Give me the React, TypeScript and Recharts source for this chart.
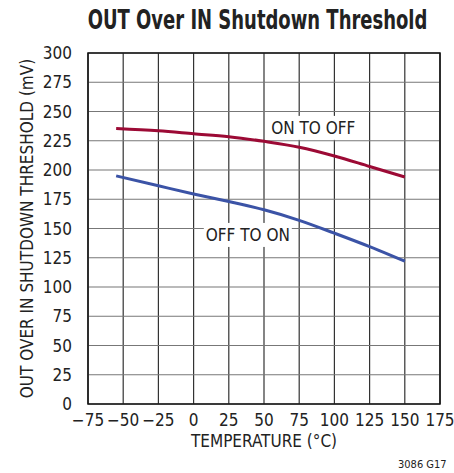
import React from "react";
import {
  LineChart,
  Line,
  XAxis,
  YAxis,
  CartesianGrid,
  ReferenceArea,
  ReferenceDot,
} from "recharts";

// temperature (°C) vs threshold (mV)
const temps = [-55, -25, 0, 25, 50, 75, 100, 125, 150];
const onToOff = [235.5, 233.5, 231, 228.5, 224.5, 219.5, 212, 203, 194];
const offToOn = [195, 186.5, 179.5, 173, 166, 157, 146, 134.5, 122];

const xTicks = [-75, -50, -25, 0, 25, 50, 75, 100, 125, 150, 175];
const yTicks = [0, 25, 50, 75, 100, 125, 150, 175, 200, 225, 250, 275, 300];

const data = temps.map((t, i) => ({ t, on: onToOff[i], off: offToOn[i] }));

const FONT = "'Liberation Sans Narrow', 'DejaVu Sans Condensed', 'Roboto Condensed', sans-serif";
const RED = "#9c0a35";
const BLUE = "#3b53a6";

const minus = (v: number) => String(v).replace("-", "\u2212");

// white boxed curve label
const curveLabel = (text: string, w: number) => (props: any) => {
  const { cx, cy } = props;
  return (
    <g>
      <rect x={cx - w / 2} y={cy - 12} width={w} height={24} fill="#fff" />
      <text x={cx} y={cy + 6} textAnchor="middle" fontFamily={FONT} fontSize={17} fill="#222">
        {text}
      </text>
    </g>
  );
};

export default function App() {
  return (
    <div style={{ position: "absolute", left: 0, top: 0, width: 454, height: 473, background: "#fff" }}>
      <LineChart
        width={454}
        height={473}
        data={data}
        margin={{ top: 53, right: 14, bottom: 0, left: 0 }}
      >
        <CartesianGrid horizontal={false} stroke="#333" strokeWidth={1.2} />
        <CartesianGrid vertical={false} stroke="#777" strokeWidth={1.2} />
        <XAxis
          type="number"
          dataKey="t"
          domain={[-75, 175]}
          ticks={xTicks}
          tickFormatter={minus}
          interval={0}
          tickLine={false}
          axisLine={false}
          tickMargin={4}
          height={69}
          tick={{ fontFamily: FONT, fontSize: 17, fill: "#222" }}
          label={{
            value: "TEMPERATURE (°C)",
            position: "insideTop",
            dy: 26,
            style: { fontFamily: FONT, fontSize: 17, fill: "#222" },
          }}
        />
        <YAxis
          type="number"
          domain={[0, 300]}
          ticks={yTicks}
          interval={0}
          tickLine={false}
          axisLine={false}
          tickMargin={10}
          width={88}
          tick={{ fontFamily: FONT, fontSize: 17, fill: "#222" }}
          label={{
            value: "OUT OVER IN SHUTDOWN THRESHOLD (mV)",
            angle: -90,
            position: "insideLeft",
            dx: 22,
            style: { fontFamily: FONT, fontSize: 17, fill: "#222", textAnchor: "middle" },
          }}
        />
        <ReferenceArea x1={-75} x2={175} y1={0} y2={300} fill="none" stroke="#111" strokeWidth={1.5} />
        <Line type="monotone" dataKey="on" stroke={RED} strokeWidth={3} dot={false} isAnimationActive={false} />
        <Line type="monotone" dataKey="off" stroke={BLUE} strokeWidth={3} dot={false} isAnimationActive={false} />
        <ReferenceDot x={85} y={236} r={0} shape={curveLabel("ON TO OFF", 92)} />
        <ReferenceDot x={38.5} y={144.5} r={0} shape={curveLabel("OFF TO ON", 88)} />
      </LineChart>
      <div
        style={{
          position: "absolute",
          left: 0,
          top: 3,
          width: 515,
          textAlign: "center",
          whiteSpace: "nowrap",
        }}
      >
        <span
          style={{
            display: "inline-block",
            transform: "scaleX(0.74)",
            transformOrigin: "center",
            fontFamily: FONT,
            fontWeight: "bold",
            fontSize: 27,
            lineHeight: "34px",
            color: "#222",
          }}
        >
          OUT Over IN Shutdown Threshold
        </span>
      </div>
      <div
        style={{
          position: "absolute",
          left: 398,
          top: 458,
          fontFamily: FONT,
          fontSize: 11,
          color: "#222",
        }}
      >
        3086 G17
      </div>
    </div>
  );
}
